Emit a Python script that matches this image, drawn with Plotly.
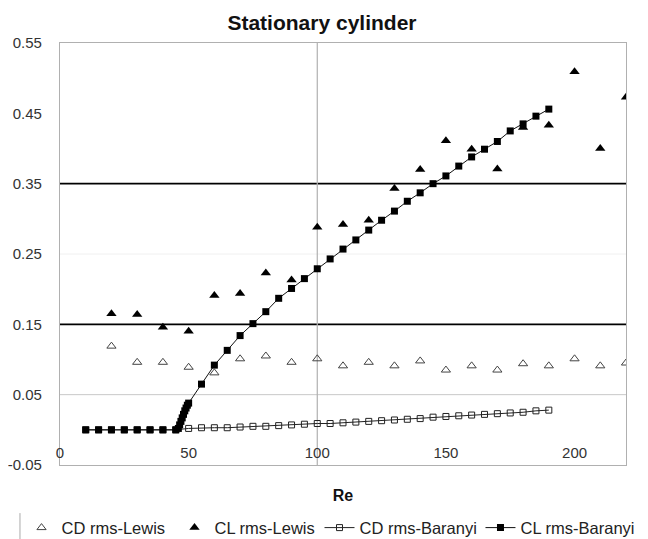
import plotly.graph_objects as go

# ---- data ----
re_lewis = [20, 30, 40, 50, 60, 70, 80, 90, 100, 110, 120, 130, 140, 150, 160, 170, 180, 190, 200, 210, 220]
cd_lewis = [0.119, 0.096, 0.096, 0.089, 0.081, 0.101, 0.105, 0.096, 0.101, 0.091, 0.096, 0.091, 0.098,
            0.085, 0.091, 0.085, 0.094, 0.091, 0.101, 0.091, 0.095]
cl_lewis = [0.165, 0.164, 0.146, 0.140, 0.191, 0.194, 0.223, 0.213, 0.288, 0.292, 0.298, 0.343, 0.370,
            0.411, 0.399, 0.371, 0.430, 0.433, 0.509, 0.400, 0.473]

re_cd_baranyi = [10, 15, 20, 25, 30, 35, 40, 45, 50, 55, 60, 65, 70, 75, 80, 85, 90, 95, 100, 105, 110,
                 115, 120, 125, 130, 135, 140, 145, 150, 155, 160, 165, 170, 175, 180, 185, 190]
cd_baranyi = [0, 0, 0, 0, 0, 0, 0, 0, 0.002, 0.003, 0.003, 0.003, 0.004, 0.005, 0.005, 0.006, 0.007,
              0.008, 0.009, 0.009, 0.010, 0.011, 0.012, 0.013, 0.014, 0.015, 0.016, 0.018, 0.019,
              0.020, 0.021, 0.022, 0.023, 0.024, 0.025, 0.027, 0.028]

re_cl_baranyi = [10, 15, 20, 25, 30, 35, 40, 45, 46, 46.5, 47, 47.5, 48, 48.5, 49, 49.5, 50, 55, 60,
                 65, 70, 75, 80, 85, 90, 95, 100, 105, 110, 115, 120, 125, 130, 135, 140, 145, 150,
                 155, 160, 165, 170, 175, 180, 185, 190]
cl_baranyi = [0, 0, 0, 0, 0, 0, 0, 0, 0.002, 0.007, 0.012, 0.017, 0.022, 0.027, 0.031, 0.035, 0.038,
              0.065, 0.092, 0.113, 0.134, 0.151, 0.168, 0.187, 0.201, 0.215, 0.229, 0.243, 0.257,
              0.270, 0.284, 0.298, 0.311, 0.325, 0.337, 0.350, 0.361, 0.375, 0.388, 0.399, 0.410,
              0.425, 0.435, 0.446, 0.456]

x_ticks = [0, 50, 100, 150, 200]
y_ticks = [-0.05, 0.05, 0.15, 0.25, 0.35, 0.45, 0.55]

FONT = "Liberation Sans, Arial, sans-serif"

fig = go.Figure()
fig.add_trace(go.Scatter(x=re_lewis, y=cd_lewis, mode="markers", name="CD rms-Lewis", legend="legend",
                         marker=dict(symbol="triangle-up-open", size=8, color="#444",
                                     line=dict(width=1, color="#444"))))
fig.add_trace(go.Scatter(x=re_lewis, y=cl_lewis, mode="markers", name="CL rms-Lewis", legend="legend2",
                         marker=dict(symbol="triangle-up", size=9, color="#000")))
fig.add_trace(go.Scatter(x=re_cd_baranyi, y=cd_baranyi, mode="lines+markers", name="CD rms-Baranyi",
                         legend="legend3", line=dict(color="#222", width=1),
                         marker=dict(symbol="square-open", size=6, color="#222",
                                     line=dict(width=1, color="#222"))))
fig.add_trace(go.Scatter(x=re_cl_baranyi, y=cl_baranyi, mode="lines+markers", name="CL rms-Baranyi",
                         legend="legend4", line=dict(color="#111", width=1),
                         marker=dict(symbol="square", size=7, color="#000")))

shapes = []
for yv in (0.35, 0.15):
    shapes.append(dict(type="line", xref="x", yref="y", x0=0, x1=220, y0=yv, y1=yv,
                       line=dict(color="#000", width=1.6), layer="below"))
shapes.append(dict(type="line", xref="x", yref="y", x0=0, x1=220, y0=0.05, y1=0.05,
                   line=dict(color="#c8c8c8", width=1), layer="below"))
shapes.append(dict(type="line", xref="x", yref="y", x0=0, x1=220, y0=0.25, y1=0.25,
                   line=dict(color="#f0f0f0", width=1), layer="below"))
shapes.append(dict(type="line", xref="x", yref="y", x0=100, x1=100, y0=-0.05, y1=0.55,
                   line=dict(color="#b0b0b0", width=1.2), layer="below"))
# legend left border
shapes.append(dict(type="line", xref="paper", yref="paper", x0=-0.0707, x1=-0.0707, y0=-0.114, y1=-0.19,
                   line=dict(color="#aaa", width=1)))
fig.update_layout(shapes=shapes)


def leg(xpos):
    return dict(orientation="h", x=xpos, xanchor="left", y=-0.149, yanchor="middle",
                font=dict(size=16.5, color="#222"), itemwidth=30, bgcolor="rgba(0,0,0,0)")


# The page body has an 8px margin, so the figure is drawn 8px smaller and offset.
fig.update_layout(
    width=640, height=531,
    margin=dict(l=52, r=22, t=35, b=74, autoexpand=False),
    paper_bgcolor="white", plot_bgcolor="white",
    font=dict(family=FONT, size=15, color="#222"),
    title=dict(text="<b>Stationary cylinder</b>", x=0.4906, xanchor="center", xref="container",
               y=0.972, yanchor="middle", font=dict(size=21, color="#111")),
    showlegend=True,
    legend=leg(-0.068), legend2=leg(0.2023), legend3=leg(0.4585), legend4=leg(0.7429),
    xaxis=dict(range=[0, 220], tickvals=x_ticks, ticktext=[str(v) for v in x_ticks],
               ticks="", ticklabelstandoff=-26, showgrid=False, zeroline=False,
               showline=True, linecolor="#b0b0b0", linewidth=1.2, mirror=True, automargin=False,
               title=dict(text="<b>Re</b>", font=dict(size=16, color="#111"), standoff=29),
               tickfont=dict(size=15, color="#333")),
    yaxis=dict(range=[-0.05, 0.55], tickvals=y_ticks, ticktext=[f"{v:.2f}" for v in y_ticks],
               ticks="", showgrid=False, zeroline=False,
               showline=True, linecolor="#b0b0b0", linewidth=1.2, mirror=True, automargin=False,
               ticklabelstandoff=14, tickfont=dict(size=15, color="#333")),
)

fig.write_html("out.html")
